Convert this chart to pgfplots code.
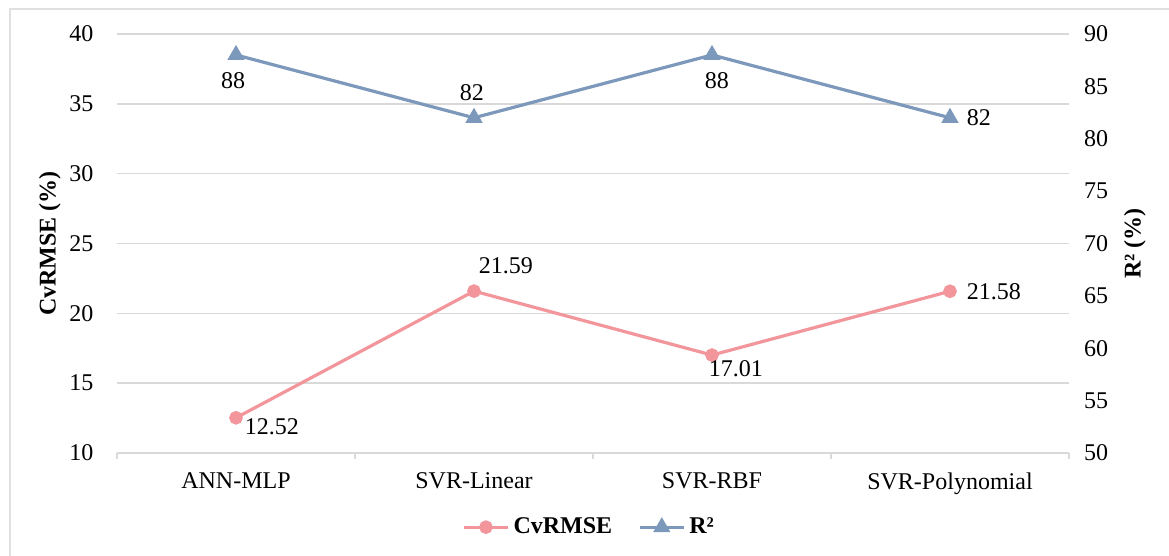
\documentclass[border=0pt]{standalone}
\usepackage{fontspec}
\setmainfont{Liberation Serif}
\usepackage{pgfplots}
\pgfplotsset{compat=1.18}

\definecolor{cvpink}{RGB}{242,150,156}
\definecolor{rblue}{RGB}{124,152,186}
\definecolor{gridgray}{RGB}{217,217,217}
\definecolor{framegray}{RGB}{224,224,224}

\pgfplotsset{
  base/.style={
    scale only axis, width=476pt, height=209.5pt,
    at={(58.5pt,51.5pt)}, anchor=south west,
    xmin=-0.5, xmax=3.5,
    /pgf/number format/assume math mode=true,
    tick label style={font=\fontsize{12}{14}\selectfont},
    label style={font=\fontsize{12}{14}\selectfont\bfseries},
  },
  cvstyle/.style={cvpink, line width=1.6pt, mark=*, mark size=2.6pt,
    mark options={solid, fill=cvpink, draw=cvpink}},
  rstyle/.style={rblue, line width=1.6pt, mark=triangle*, mark size=3.4pt,
    mark options={solid, fill=rblue, draw=rblue}},
  shifted labels/.style={
    nodes near coords, point meta=y,
    visualization depends on={\thisrow{dx} \as \labdx},
    visualization depends on={\thisrow{dy} \as \labdy},
    nodes near coords style={anchor=center, text=black,
      font=\fontsize{12}{14}\selectfont,
      xshift=\labdx pt, yshift=\labdy pt},
  },
}

\begin{document}
\begin{tikzpicture}[font=\fontsize{12}{14}\selectfont]
\useasboundingbox (0,0) rectangle (584.5pt,278pt);
\draw[framegray, line width=1pt] (5pt,0pt) -- (5pt,273.5pt) -- (584.5pt,273.5pt);

% left axis: CvRMSE
\begin{axis}[base,
  axis y line*=left, axis x line*=bottom,
  ymin=10, ymax=40, ytick={10,15,...,40},
  ymajorgrids, grid style={gridgray, line width=0.75pt},
  xtick={0,1,2,3},
  xticklabels={ANN-MLP,SVR-Linear,SVR-RBF,SVR-Polynomial},
  major x tick style={draw=none},
  minor xtick={-0.5,0.5,1.5,2.5,3.5},
  minor x tick style={gridgray, line width=0.75pt},
  minor tick length=3pt, tick align=outside,
  major y tick style={draw=none},
  y axis line style={draw=none},
  x axis line style={gridgray, line width=0.75pt},
  yticklabel style={xshift=-4pt},
  xticklabel style={yshift=-2pt},
  ylabel={CvRMSE (\%)},
  ylabel style={at={(axis description cs:-0.0704,0.5)}, anchor=center},
  nodes near coords={\pgfmathprintnumber[fixed,fixed zerofill,precision=2]{\pgfplotspointmeta}},
]
\addplot[cvstyle, shifted labels] table[x=x, y=y] {
x y dx dy
0 12.52 18 -4.5
1 21.59 16 12.5
2 17.01 12 -7
3 21.58 22 0
};
\end{axis}

% right axis: R2
\begin{axis}[base,
  axis y line*=right, axis x line=none,
  ymin=50, ymax=90, ytick={50,55,...,90},
  major y tick style={draw=none},
  y axis line style={draw=none},
  yticklabel style={xshift=4pt},
  ylabel={R² (\%)},
  ylabel style={at={(axis description cs:1.0693,0.5)}, anchor=center},
  nodes near coords={\pgfmathprintnumber[fixed,precision=0]{\pgfplotspointmeta}},
  legend style={at={(0.497,-0.177)}, anchor=center, draw=none, fill=none,
    legend columns=2, font=\fontsize{12}{14}\selectfont\bfseries,
    /tikz/every even column/.append style={column sep=11pt}},
  legend image code/.code={\draw[mark repeat=2,mark phase=2,#1]
    plot coordinates {(0pt,0pt) (11pt,0pt) (22pt,0pt)};},
]
\addlegendimage{cvstyle}
\addlegendentry{CvRMSE}
\addlegendimage{rstyle}
\addlegendentry{R²}
\addplot[rstyle, shifted labels, forget plot] table[x=x, y=y] {
x y dx dy
0 88 -1.5 -12.75
1 82 -1 12.5
2 88 2.5 -12.75
3 82 14.5 0
};
\end{axis}
\end{tikzpicture}
\end{document}
